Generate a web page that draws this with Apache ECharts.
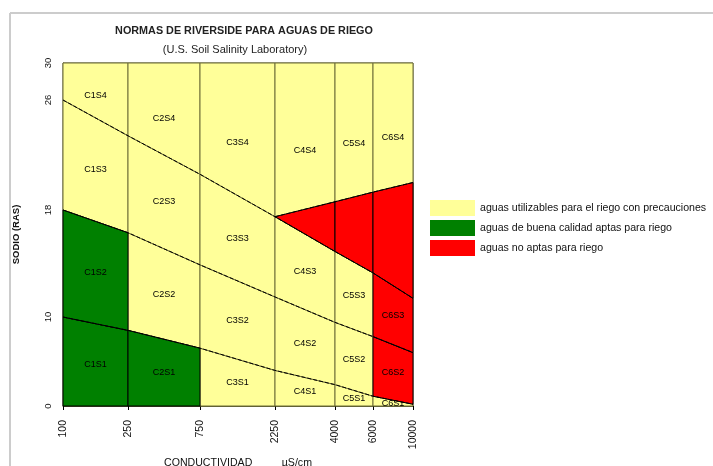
<!DOCTYPE html>
<html>
<head>
<meta charset="utf-8">
<script src="https://cdn.jsdelivr.net/npm/echarts@6/dist/echarts.min.js"></script>
<style>
  html, body { margin: 0; padding: 0; background: #fff; }
  #chart { width: 713px; height: 466px; }
</style>
</head>
<body>
<div id="chart"></div>
<script>
// ---------------- DATA ----------------
// Conductivity class limits (µS/cm) shown on the x axis
const conductividad = [100, 250, 750, 2250, 4000, 6000, 10000];
// SAR (RAS) tick values on the y axis
const rasTicks = [0, 10, 18, 26, 30];
// SAR value of each sodium-class boundary at every conductivity limit
const limiteS1S2 = [10, 8.5, 6.5, 4.0, 2.4, 1.1, 0.2];
const limiteS2S3 = [18, 16.3, 13.9, 11.5, 9.4, 7.8, 6.0];
const limiteS3S4 = [26, 23.4, 20.6, 17.5, 14.9, 13.3, 11.4];
// Upper limit of the "no apta" wedge, at conductivities 2250, 4000, 6000, 10000
const condNoApta = [2250, 4000, 6000, 10000];
const limiteNoApta = [17.5, 18.6, 19.3, 20.0];
// Quality per conductivity class (C1..C6) and sodium class (S1..S4)
// B = buena calidad, P = con precauciones, N = no apta
const calidad = [
  ['B', 'B', 'P', 'P'],
  ['B', 'P', 'P', 'P'],
  ['P', 'P', 'P', 'P'],
  ['P', 'P', 'P', 'P'],
  ['P', 'P', 'P', 'P'],
  ['P', 'N', 'N', 'P']
];
const nombres = {
  P: 'aguas utilizables para el riego con precauciones',
  B: 'aguas de buena calidad aptas para riego',
  N: 'aguas no aptas para riego'
};
const titulo = 'NORMAS DE RIVERSIDE PARA AGUAS DE RIEGO';
const subtitulo = '(U.S. Soil Salinity Laboratory)';

// ---------------- SCALE (non-linear axes of the original diagram) ----------------
const xScaleStops = [0, 65, 137, 212, 272, 310, 350];
const yScaleStops = [0, 89, 196, 306, 343];
function interp(v, xs, ys) {
  for (let i = 0; i < xs.length - 1; i++) {
    if (v <= xs[i + 1] || i === xs.length - 2) {
      const t = (v - xs[i]) / (xs[i + 1] - xs[i]);
      return ys[i] + t * (ys[i + 1] - ys[i]);
    }
  }
}
const fx = c => interp(c, conductividad, xScaleStops);
const fy = s => interp(s, rasTicks, yScaleStops);
const RAS_MAX = rasTicks[rasTicks.length - 1];

// boundary index: 0 bottom, 1 S1/S2, 2 S2/S3, 3 S3/S4, 4 top, 5 no-apta wedge top
function boundaryAt(b, i) {
  if (b === 0) return 0;
  if (b === 1) return limiteS1S2[i];
  if (b === 2) return limiteS2S3[i];
  if (b === 3) return limiteS3S4[i];
  if (b === 4) return RAS_MAX;
  const k = condNoApta.indexOf(conductividad[i]);
  return limiteNoApta[k];
}

const colores = { P: '#FFFF99', B: '#008000', N: '#FF0000' };
const bordes = { P: '#6e6e38', B: '#000000', N: '#000000' };

// regions grouped by quality
const regiones = { P: [], B: [], N: [] };
calidad.forEach((col, i) => {
  col.forEach((q, j) => {
    regiones[q].push({ col: i, lower: j, upper: j + 1, label: 'C' + (i + 1) + 'S' + (j + 1) });
  });
});
for (let i = 0; i < conductividad.length - 1; i++) {
  if (conductividad[i] >= condNoApta[0]) {
    regiones.N.push({ col: i, lower: 3, upper: 5, label: '' });
  }
}

const FONT = '"Liberation Sans", Arial, sans-serif';

function makeRegionSeries(q) {
  const regs = regiones[q];
  return {
    type: 'custom',
    name: nombres[q],
    coordinateSystem: 'cartesian2d',
    itemStyle: { color: colores[q] },
    silent: true,
    z: q === 'P' ? 1 : 2,
    data: regs.map(r => [r.col, r.lower, r.upper]),
    renderItem: function (params, api) {
      const r = regs[params.dataIndex];
      const i = r.col;
      const xa = fx(conductividad[i]), xb = fx(conductividad[i + 1]);
      const p1 = api.coord([xa, fy(boundaryAt(r.lower, i))]);
      const p2 = api.coord([xb, fy(boundaryAt(r.lower, i + 1))]);
      const p3 = api.coord([xb, fy(boundaryAt(r.upper, i + 1))]);
      const p4 = api.coord([xa, fy(boundaryAt(r.upper, i))]);
      const children = [{
        type: 'polygon',
        shape: { points: [p1, p2, p3, p4] },
        style: { fill: colores[q], stroke: bordes[q], lineWidth: 1 }
      }];
      if (r.label) {
        let lowB = r.lower;
        if (r.upper === 4 && conductividad[i] >= condNoApta[0]) lowB = 5;
        const lowMid = (api.coord([xa, fy(boundaryAt(lowB, i))])[1] + api.coord([xb, fy(boundaryAt(lowB, i + 1))])[1]) / 2;
        const upMid = (p3[1] + p4[1]) / 2;
        const w = r.upper === 4 ? 0.4 : 0.5;
        children.push({
          type: 'text',
          style: {
            text: r.label, x: (p1[0] + p2[0]) / 2, y: lowMid + w * (upMid - lowMid),
            align: 'center', verticalAlign: 'middle',
            fill: '#000', font: '9px ' + FONT
          },
          z2: 10
        });
      }
      return { type: 'group', children: children };
    }
  };
}

function boundaryLine(vals, conds) {
  return {
    type: 'line',
    silent: true,
    z: 5,
    symbol: 'none',
    data: conds.map((c, k) => [fx(c), fy(vals[k])]),
    lineStyle: { color: '#000', width: 1, type: [4, 2] }
  };
}

const chart = echarts.init(document.getElementById('chart'), null, { renderer: 'canvas' });
chart.setOption({
  animation: false,
  backgroundColor: '#ffffff',
  title: [
    { text: titulo, left: 239, top: 21, textAlign: 'center',
      textStyle: { fontSize: 10.8, fontWeight: 'bold', color: '#222', fontFamily: FONT } },
    { text: subtitulo, left: 230, top: 39, textAlign: 'center',
      textStyle: { fontSize: 11, fontWeight: 'normal', color: '#222', fontFamily: FONT } }
  ],
  graphic: [
    { type: 'line', shape: { x1: 10, y1: 13, x2: 713, y2: 13 }, style: { stroke: '#cccccc', lineWidth: 2 }, silent: true },
    { type: 'line', shape: { x1: 10, y1: 13, x2: 10, y2: 466 }, style: { stroke: '#cccccc', lineWidth: 2 }, silent: true }
  ],
  legend: {
    orient: 'vertical',
    left: 425, top: 195,
    itemWidth: 45, itemHeight: 16, itemGap: 4,
    icon: 'rect',
    data: [nombres.P, nombres.B, nombres.N],
    textStyle: { fontSize: 10.6, color: '#111', fontFamily: FONT },
    selectedMode: false
  },
  grid: { left: 63, top: 63, width: 350, height: 343, show: true, borderColor: '#555533', borderWidth: 1,
    containLabel: false, outerBoundsMode: 'none' },
  xAxis: {
    type: 'value', min: 0, max: xScaleStops[xScaleStops.length - 1],
    name: 'CONDUCTIVIDAD          µS/cm',
    nameLocation: 'middle', nameGap: 52, nameMoveOverlap: false,
    nameTextStyle: { fontSize: 10.6, color: '#111', fontFamily: FONT },
    axisLine: { show: true, lineStyle: { color: '#555533' } },
    axisTick: { show: true, customValues: xScaleStops, length: 4, lineStyle: { color: '#000' } },
    axisLabel: {
      customValues: xScaleStops, rotate: 90, margin: 14,
      fontSize: 10.5, color: '#111', fontFamily: FONT,
      formatter: v => { const k = xScaleStops.indexOf(v); return k >= 0 ? String(conductividad[k]) : ''; }
    },
    splitLine: { show: false }
  },
  yAxis: {
    type: 'value', min: 0, max: yScaleStops[yScaleStops.length - 1],
    name: 'SODIO (RAS)',
    nameLocation: 'middle', nameGap: 42, nameMoveOverlap: false,
    nameTextStyle: { fontSize: 9.5, fontWeight: 'bold', color: '#111', fontFamily: FONT },
    axisLine: { show: true, lineStyle: { color: '#555533' } },
    axisTick: { show: false },
    axisLabel: {
      customValues: yScaleStops, rotate: 90, margin: 10,
      fontSize: 9.5, color: '#111', fontFamily: FONT,
      formatter: v => { const k = yScaleStops.indexOf(v); return k >= 0 ? String(rasTicks[k]) : ''; }
    },
    splitLine: { show: false }
  },
  series: [
    makeRegionSeries('P'),
    makeRegionSeries('B'),
    makeRegionSeries('N'),
    boundaryLine(limiteS1S2, conductividad),
    boundaryLine(limiteS2S3, conductividad),
    boundaryLine(limiteS3S4, conductividad),
    boundaryLine(limiteNoApta, condNoApta)
  ]
});
</script>
</body>
</html>
